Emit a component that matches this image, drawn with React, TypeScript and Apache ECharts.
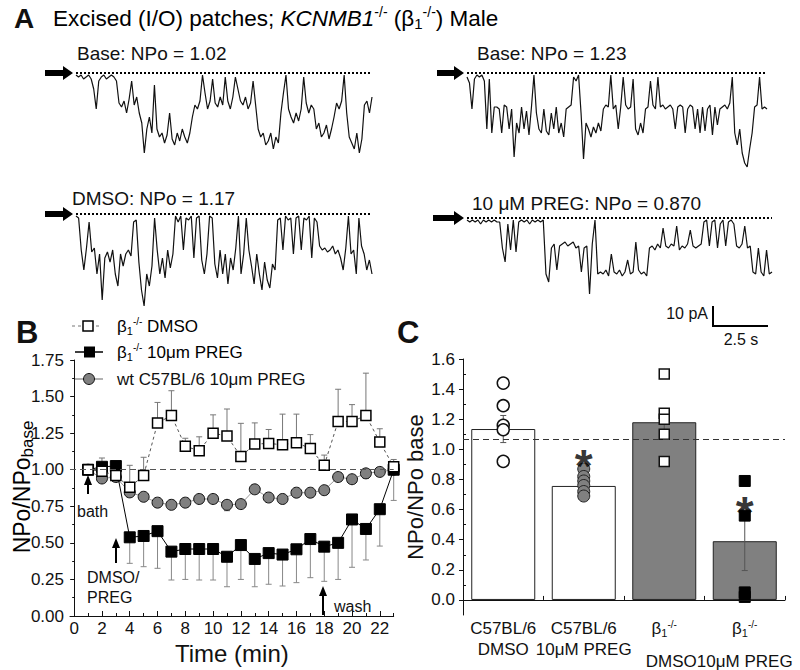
import React, { useEffect, useRef } from 'react';
import * as echarts from 'echarts';

const FONT = 'Liberation Sans, Arial, Helvetica, sans-serif';

// ---------- Panel B data ----------
const timeMin = [1, 2, 3, 4, 5, 6, 7, 8, 9, 10, 11, 12, 13, 14, 15, 16, 17, 18, 19, 20, 21, 22, 23];
const dmsoMean = [1.0, 0.99, 0.96, 0.88, 0.96, 1.32, 1.37, 1.16, 1.13, 1.25, 1.23, 1.09, 1.175, 1.18, 1.17, 1.185, 1.145, 1.03, 1.33, 1.33, 1.37, 1.19, 1.02];
const dmsoErrTop = [1.0, 1.08, 0.99, 1.03, 1.085, 1.46, 1.54, 1.215, 1.225, 1.375, 1.415, 1.317, 1.32, 1.275, 1.38, 1.38, 1.24, 1.1, 1.55, 1.445, 1.66, 1.28, 1.07];
const pregMean = [1.0, 1.02, 1.025, 0.538, 0.547, 0.58, 0.44, 0.458, 0.458, 0.458, 0.405, 0.485, 0.39, 0.43, 0.42, 0.456, 0.526, 0.474, 0.5, 0.66, 0.595, 0.73, 1.0];
const pregErrBottom = [1.0, 0.98, 1.0, 0.36, 0.337, 0.326, 0.246, 0.25, 0.246, 0.246, 0.2, 0.25, 0.2, 0.217, 0.205, 0.228, 0.262, 0.237, 0.25, 0.333, 0.383, 0.478, 0.79];
const wtPregMean = [1.0, 0.94, 0.95, 0.845, 0.815, 0.775, 0.76, 0.775, 0.8, 0.8, 0.76, 0.765, 0.866, 0.81, 0.8, 0.843, 0.843, 0.86, 0.95, 0.935, 0.975, 0.985, 1.0];
const wtPregErrBottom = [1.0, 0.92, 0.93, 0.82, 0.8, 0.76, 0.745, 0.76, 0.785, 0.785, 0.72, 0.75, 0.85, 0.795, 0.785, 0.83, 0.82, 0.83, 0.92, 0.91, 0.94, 0.97, 0.99];
const bXTickMajor = [0, 2, 4, 6, 8, 10, 12, 14, 16, 18, 20, 22];
const bXTickMinor = [1, 3, 5, 7, 9, 11, 13, 15, 17, 19, 21, 23];

// ---------- Panel C data ----------
const cCategories = ['C57BL/6 DMSO', 'C57BL/6 10μM PREG', 'β1-/- DMSO', 'β1-/- 10μM PREG'];
const cLabels = [
  '{t|C57BL/6}\n{t|DMSO}',
  '{t|C57BL/6}\n{t|10μM PREG}',
  '{t|β}{sub|1}{sup|-/-}\n{gap| }\n{d|DMSO}',
  '{t|β}{sub|1}{sup|-/-}\n{gap| }\n{t|10μM PREG}',
];
const barMeans = [1.135, 0.757, 1.18, 0.39];
const barErrLow = [1.045, 0.745, 1.09, 0.195];
const barErrHigh = [1.225, 0.77, 1.27, 0.585];
const wtDmsoPts = [1.44, 1.29, 1.16, 1.13, 0.92];
const wtPregPts = [0.87, 0.82, 0.79, 0.76, 0.72, 0.69];
const koDmsoPts = [1.5, 1.24, 1.2, 1.1, 0.92];
const koPregPts = [0.79, 0.56, 0.05, 0.02];
const cRefLine = 1.07;
const starPoints = [[1, 0.97], [3, 0.66]];
const cTickMajor = [0, 0.2, 0.4, 0.6, 0.8, 1.0, 1.2, 1.4, 1.6];
const cTickMinor = [0.1, 0.3, 0.5, 0.7, 0.9, 1.1, 1.3, 1.5];

// ---------- Panel A traces (pA) ----------
const traceBase1 = [-1, -2, -1, -3, -2, -1, -3, -8, -18, -4, -2, -1, -3, -2, -1, -2, -4, -15, -17, -14, -20, -13, -4, -16,
  -12, -20, -25, -40, -28, -22, -30, -6, -28, -32, -30, -35, -31, -20, -33, -36, -30, -34, -28, -32, -35, -30, -22, -16, -18, -14, -1,
  -10, -18, -14, -3, -15, -17, -12, -16, -2, -14, -18, -12, -2, -8, -14, -16, -12, -18, -15, -4, -16,
  -28, -32, -30, -36, -34, -30, -38, -32, -35, -20, -10, -1, -18, -22, -25, -20, -24, -18, -2, -15, -20, -16,
  -18, -28, -25, -32, -30, -26, -33, -28, -22, -15, -18, -14, -1, -20, -32, -35, -38, -30, -40, -33, -16, -14, -20, -12];
const traceBase2 = [-2, -5, -18, -3, -1, -2, -1, -4, -28, -3, -30, -17, -17, -18, -30, -16, -17,
  -28, -18, -42, -25, -30, -17, -28, -19, -31, -17, -1, -20, -28, -30, -18, -29, -31, -20, -28, -17, -30, -25, -32, -18,
  -17, -16, -2, -4, -1, -20, -43, -25, -28, -32, -27, -30, -25, -29, -18,
  -16, -17, -1, -18, -16, -28, -17, -2, -16, -18, -17, -3, -28, -31, -25, -30, -18,
  -17, -4, -16, -18, -2, -17, -16, -18, -17, -16, -18, -28, -17, -16, -17, -30, -18, -16, -17,
  -28, -18, -30, -17, -29, -18, -16, -31, -17, -26, -18, -17, -16, -18, -15, -2,
  -30, -36, -28, -40, -45, -47, -38, -30, -17, -16, -2, -18, -17, -18];
const traceDmso = [-1, -2, -18, -28, -17, -4, -19, -17, -30, -20, -43, -22, -19, -24, -18, -30, -36, -20, -26,
  -20, -18, -21, -4, -3, -24, -38, -46, -30, -36, -26, -2, -18, -30, -22, -32, -18, -27, -20, -1,
  -4, -1, -18, -2, -3, -1, -22, -2, -1, -23, -30, -20, -1, -2, -25, -32, -18, -30, -20, -35,
  -22, -28, -17, -1, -30, -20, -2, -18, -26, -35, -20, -30, -38, -24, -33, -37, -25, -28,
  -3, -2, -18, -1, -3, -2, -20, -2, -1, -18, -2, -3, -1, -22, -2, -4,
  -16, -18, -17, -19, -18, -16, -20, -18, -22, -28, -17, -1, -20, -18, -30, -2, -16, -20, -28, -23, -30];
const tracePreg = [-1, -2, -1, -2, -1, -3, -1, -2, -1, -2, -1, -2, -2, -15, -22, -3, -16, -1, -17, -2,
  -1, -2, -1, -3, -1, -2, -1, -2, -1, -28, -32, -15, -13, -26, -14, -13,
  -12, -14, -13, -12, -15, -14, -27, -15, -14, -38, -13, -1, -28,
  -27, -28, -26, -29, -18, -27, -28, -26, -29, -27, -21, -28, -27, -12, -26, -28, -27, -29,
  -15, -14, -16, -13, -15, -5, -14, -15, -13, -14, -4, -16, -14, -15, -13, -6, -14, -15, -14, -13,
  -2, -1, -14, -2, -1, -15, -3, -1, -14, -2, -1, -3, -14, -15, -13, -4, -15, -14,
  -27, -28, -15, -27, -29, -16, -28, -27];

const traceSpecs = [
  { data: traceBase1, left: 76, width: 296, top: 71, height: 88, min: -43, label: 'Base: NPo = 1.02', lx: 77, ly: 53, arrowL: 45 },
  { data: traceBase2, left: 467, width: 300, top: 71, height: 98, min: -48, label: 'Base: NPo = 1.23', lx: 477, ly: 53, arrowL: 437 },
  { data: traceDmso, left: 76, width: 296, top: 212, height: 96, min: -47, label: 'DMSO: NPo = 1.17', lx: 72, ly: 198, arrowL: 45 },
  { data: tracePreg, left: 467, width: 305, top: 216, height: 80, min: -39, label: '10 μM PREG: NPo = 0.870', lx: 472, ly: 203, arrowL: 433 },
];

const richSet = (fs: number) => ({
  t: { fontSize: fs, fontFamily: FONT, color: '#111', lineHeight: fs + 4 },
  i: { fontSize: fs, fontFamily: FONT, color: '#111', fontStyle: 'italic', lineHeight: fs + 4 },
  d: { fontSize: fs, fontFamily: FONT, color: '#111', lineHeight: fs + 4, padding: [0, 0, 0, 14] },
  sub: { fontSize: Math.round(fs * 0.66), fontFamily: FONT, color: '#111', lineHeight: Math.round(fs * 0.66), padding: [Math.round(fs * 0.5), 0, 0, 0] },
  sup: { fontSize: Math.round(fs * 0.6), fontFamily: FONT, color: '#111', lineHeight: Math.round(fs * 0.6), padding: [0, 0, Math.round(fs * 0.55), 0] },
  gap: { fontSize: 4, lineHeight: 12 },
});

function errRender(capAtHigh: boolean, color: string) {
  return (params: any, api: any) => {
    const x = api.value(0);
    const lo = api.value(1);
    const hi = api.value(2);
    if (Math.abs(hi - lo) < 1e-6) return { type: 'group', children: [] };
    const a = api.coord([x, lo]);
    const b = api.coord([x, hi]);
    const c = capAtHigh ? b : a;
    const w = 3;
    return {
      type: 'group',
      children: [
        { type: 'line', shape: { x1: a[0], y1: a[1], x2: b[0], y2: b[1] }, style: { stroke: color, lineWidth: 1 } },
        { type: 'line', shape: { x1: c[0] - w, y1: c[1], x2: c[0] + w, y2: c[1] }, style: { stroke: color, lineWidth: 1 } },
      ],
    };
  };
}

function arrowRight(xl: number, xt: number, y: number) {
  return {
    type: 'polygon',
    shape: { points: [[xl, y - 3], [xt - 10, y - 3], [xt - 10, y - 7], [xt, y], [xt - 10, y + 7], [xt - 10, y + 3], [xl, y + 3]] },
    style: { fill: '#000' },
  };
}
function arrowUp(x: number, yb: number, yt: number) {
  return [
    { type: 'line', shape: { x1: x, y1: yb, x2: x, y2: yt + 7 }, style: { stroke: '#000', lineWidth: 2 } },
    { type: 'polygon', shape: { points: [[x - 4, yt + 10], [x, yt], [x + 4, yt + 10]] }, style: { fill: '#000' } },
  ];
}
function txt(x: number, y: number, text: string, fs: number, extra: any = {}) {
  return { type: 'text', x, y, style: { text, fontSize: fs, fontFamily: FONT, fill: '#111', verticalAlign: 'middle', align: 'left', ...extra } };
}

export default function App() {
  const ref = useRef<HTMLDivElement>(null);
  useEffect(() => {
    if (!ref.current) return;
    const chart = echarts.init(ref.current, undefined, { renderer: 'svg' });

    const grids: any[] = [
      { left: 70, top: 360, width: 323.7, height: 256 },
      { left: 463, top: 359, width: 322, height: 257.7 },
      ...traceSpecs.map((s) => ({ left: s.left, top: s.top, width: s.width, height: s.height })),
    ];

    const axisLineStyle = { color: '#111', width: 1 };

    const xAxes: any[] = [
      {
        type: 'value', gridIndex: 0, min: -0.3, max: 23, position: 'bottom',
        axisLine: { lineStyle: axisLineStyle },
        axisTick: { inside: true, length: 5, customValues: bXTickMajor, lineStyle: axisLineStyle },
        axisLabel: { customValues: bXTickMajor, fontSize: 17, fontFamily: FONT, color: '#111', margin: 4 },
        splitLine: { show: false },
        name: 'Time (min)', nameLocation: 'middle', nameGap: 25,
        nameTextStyle: { fontSize: 24, fontFamily: FONT, color: '#111' },
      },
      {
        type: 'value', gridIndex: 0, min: -0.3, max: 23, position: 'bottom',
        axisLine: { show: false },
        axisTick: { inside: true, length: 3, customValues: bXTickMinor, lineStyle: axisLineStyle },
        axisLabel: { show: false }, splitLine: { show: false },
      },
      {
        type: 'category', gridIndex: 1, data: cCategories, position: 'bottom',
        axisLine: { lineStyle: axisLineStyle },
        axisTick: { show: true, length: 4, inside: true, lineStyle: axisLineStyle },
        axisLabel: {
          interval: 0, margin: 3, formatter: (_v: string, i: number) => cLabels[i],
          rich: richSet(17),
        },
      },
      ...traceSpecs.map((s, i) => ({
        type: 'category', gridIndex: 2 + i, show: false, boundaryGap: false,
        data: s.data.map((_v, k) => String(k)),
      })),
    ];

    const yAxes: any[] = [
      {
        type: 'value', gridIndex: 0, min: 0, max: 1.75, interval: 0.25, position: 'left',
        axisLine: { show: true, lineStyle: axisLineStyle },
        axisTick: { show: true, length: 4, lineStyle: axisLineStyle },
        minorTick: { show: true, splitNumber: 2, length: 2, lineStyle: axisLineStyle },
        axisLabel: { formatter: (v: number) => v.toFixed(2), fontSize: 17, fontFamily: FONT, color: '#111', margin: 6 },
        splitLine: { show: false },
      },
      {
        type: 'value', gridIndex: 1, min: -0.1, max: 1.6, position: 'left',
        axisLine: { show: true, lineStyle: axisLineStyle },
        axisTick: { show: true, length: 4, customValues: cTickMajor, lineStyle: axisLineStyle },
        axisLabel: { customValues: cTickMajor, formatter: (v: number) => v.toFixed(1), fontSize: 17, fontFamily: FONT, color: '#111', margin: 8 },
        splitLine: { show: false },
        name: 'NPo/NPo base', nameLocation: 'middle', nameGap: 37, nameRotate: 90,
        nameTextStyle: { fontSize: 22, fontFamily: FONT, color: '#111' },
      },
      {
        type: 'value', gridIndex: 1, min: -0.1, max: 1.6, position: 'left',
        axisLine: { show: false },
        axisTick: { show: true, inside: true, length: 3, customValues: cTickMinor, lineStyle: axisLineStyle },
        axisLabel: { show: false }, splitLine: { show: false },
      },
      ...traceSpecs.map((s, i) => ({ type: 'value', gridIndex: 2 + i, show: false, min: s.min, max: 1, splitLine: { show: false } })),
    ];

    const series: any[] = [
      {
        type: 'custom', xAxisIndex: 0, yAxisIndex: 0, z: 1,
        renderItem: errRender(false, '#666'),
        encode: { x: 0, y: [1, 2] },
        data: timeMin.map((t, i) => [t, wtPregErrBottom[i], wtPregMean[i]]),
      },
      {
        type: 'custom', xAxisIndex: 0, yAxisIndex: 0, z: 1,
        renderItem: errRender(false, '#888'),
        encode: { x: 0, y: [1, 2] },
        data: timeMin.map((t, i) => [t, pregErrBottom[i], pregMean[i]]),
      },
      {
        type: 'custom', xAxisIndex: 0, yAxisIndex: 0, z: 1,
        renderItem: errRender(true, '#777'),
        encode: { x: 0, y: [1, 2] },
        data: timeMin.map((t, i) => [t, dmsoMean[i], dmsoErrTop[i]]),
      },
      {
        name: 'wt C57BL/6 10μm PREG', type: 'line', xAxisIndex: 0, yAxisIndex: 0, z: 2,
        data: timeMin.map((t, i) => [t, wtPregMean[i]]),
        symbol: 'circle', symbolSize: 11,
        itemStyle: { color: '#808080', borderColor: '#111', borderWidth: 1 },
        lineStyle: { color: '#999', width: 1 },
        markLine: {
          silent: true, symbol: 'none', label: { show: false },
          lineStyle: { type: [6, 4], color: '#555', width: 1 },
          data: [{ yAxis: 1 }],
        },
      },
      {
        name: 'β1-/- 10μm PREG', type: 'line', xAxisIndex: 0, yAxisIndex: 0, z: 3,
        data: timeMin.map((t, i) => [t, pregMean[i]]),
        symbol: 'rect', symbolSize: 11,
        itemStyle: { color: '#000', borderColor: '#000', borderWidth: 1 },
        lineStyle: { color: '#000', width: 1 },
      },
      {
        name: 'β1-/- DMSO', type: 'line', xAxisIndex: 0, yAxisIndex: 0, z: 4,
        data: timeMin.map((t, i) => [t, dmsoMean[i]]),
        symbol: 'rect', symbolSize: 10,
        itemStyle: { color: '#fff', borderColor: '#000', borderWidth: 1.5 },
        lineStyle: { color: '#555', width: 1, type: [3, 3] },
      },
      {
        type: 'bar', xAxisIndex: 2, yAxisIndex: 1, barWidth: 64, z: 1,
        data: barMeans.map((v, i) => ({
          value: v,
          itemStyle: { color: i < 2 ? '#ffffff' : '#808080', borderColor: '#222', borderWidth: 1 },
        })),
        markLine: {
          silent: true, symbol: 'none', label: { show: false },
          data: [
            { yAxis: 0, lineStyle: { type: 'solid', color: '#111', width: 1 } },
            { yAxis: cRefLine, lineStyle: { type: [6, 4], color: '#333', width: 1 } },
          ],
        },
      },
      {
        type: 'custom', xAxisIndex: 2, yAxisIndex: 1, z: 2,
        renderItem: (params: any, api: any) => {
          const x = api.value(0);
          const a = api.coord([x, api.value(1)]);
          const b = api.coord([x, api.value(2)]);
          const w = 3;
          return {
            type: 'group',
            children: [
              { type: 'line', shape: { x1: a[0], y1: a[1], x2: b[0], y2: b[1] }, style: { stroke: '#555', lineWidth: 1 } },
              { type: 'line', shape: { x1: a[0] - w, y1: a[1], x2: a[0] + w, y2: a[1] }, style: { stroke: '#555', lineWidth: 1 } },
              { type: 'line', shape: { x1: b[0] - w, y1: b[1], x2: b[0] + w, y2: b[1] }, style: { stroke: '#555', lineWidth: 1 } },
            ],
          };
        },
        encode: { x: 0, y: [1, 2] },
        data: barMeans.map((_v, i) => [i, barErrLow[i], barErrHigh[i]]),
      },
      {
        type: 'scatter', xAxisIndex: 2, yAxisIndex: 1, z: 3,
        data: wtDmsoPts.map((v) => [0, v]), symbol: 'circle', symbolSize: 12,
        itemStyle: { color: '#fff', borderColor: '#111', borderWidth: 1.5, opacity: 1 },
      },
      {
        type: 'scatter', xAxisIndex: 2, yAxisIndex: 1, z: 3,
        data: wtPregPts.map((v) => [1, v]), symbol: 'circle', symbolSize: 12,
        itemStyle: { color: '#808080', borderColor: '#222', borderWidth: 1, opacity: 1 },
      },
      {
        type: 'scatter', xAxisIndex: 2, yAxisIndex: 1, z: 3,
        data: koDmsoPts.map((v) => [2, v]), symbol: 'rect', symbolSize: 10,
        itemStyle: { color: '#fff', borderColor: '#111', borderWidth: 1.5, opacity: 1 },
      },
      {
        type: 'scatter', xAxisIndex: 2, yAxisIndex: 1, z: 3,
        data: koPregPts.map((v) => [3, v]), symbol: 'rect', symbolSize: 11,
        itemStyle: { color: '#000', borderColor: '#000', borderWidth: 1, opacity: 1 },
      },
      {
        type: 'scatter', xAxisIndex: 2, yAxisIndex: 1, z: 5,
        data: starPoints, symbolSize: 1, itemStyle: { color: 'rgba(0,0,0,0)' },
        label: { show: true, position: 'inside', formatter: '*', fontSize: 46, fontWeight: 'bold', fontFamily: FONT, color: '#000', offset: [0, 12] },
      },
      ...traceSpecs.map((s, i) => ({
        type: 'line', xAxisIndex: 3 + i, yAxisIndex: 3 + i,
        data: s.data, symbol: 'none',
        lineStyle: { color: '#111', width: 1.2 },
        markLine: {
          silent: true, symbol: 'none', label: { show: false },
          lineStyle: { type: [2, 2], color: '#000', width: 2 },
          data: [{ yAxis: 0 }],
        },
      })),
    ];

    const titleRich = richSet(22.5);
    const legRich = richSet(17);

    const graphic: any[] = [
      txt(14, 18, 'A', 28, { fontWeight: 'bold' }),
      { type: 'text', x: 53, y: 18, style: { text: '{t|Excised (I/O) patches; }{i|KCNMB1}{sup|-/-}{t| (β}{sub|1}{sup|-/-}{t|) Male}', rich: titleRich, verticalAlign: 'middle', align: 'left' } },
      ...traceSpecs.map((s) => txt(s.lx, s.ly, s.label, 19)),
      ...traceSpecs.map((s) => arrowRight(s.arrowL, s.left - 3, s.top + 2)),
      { type: 'polyline', shape: { points: [[713, 306], [713, 326], [768, 326]] }, style: { stroke: '#000', lineWidth: 2, fill: 'none' } },
      txt(708, 313, '10 pA', 16, { align: 'right' }),
      txt(741, 339, '2.5 s', 16, { align: 'center' }),
      txt(16, 332, 'B', 31, { fontWeight: 'bold' }),
      txt(397, 332, 'C', 31, { fontWeight: 'bold' }),
      {
        type: 'text', x: 22, y: 487, rotation: Math.PI / 2,
        style: {
          text: '{a|NPo/NPo}{b|base}', align: 'center', verticalAlign: 'middle',
          rich: {
            a: { fontSize: 23, fontFamily: FONT, color: '#111', lineHeight: 26 },
            b: { fontSize: 17, fontFamily: FONT, color: '#111', lineHeight: 17, padding: [10, 0, 0, 0] },
          },
        },
      },
      { type: 'line', shape: { x1: 72, y1: 326, x2: 102, y2: 326 }, style: { stroke: '#777', lineWidth: 1, lineDash: [3, 3] } },
      { type: 'rect', shape: { x: 83, y: 321, width: 10, height: 10 }, style: { fill: '#fff', stroke: '#000', lineWidth: 1.5 } },
      { type: 'text', x: 117, y: 326, style: { text: '{t|β}{sub|1}{sup|-/-}{t| DMSO}', rich: legRich, verticalAlign: 'middle', align: 'left' } },
      { type: 'line', shape: { x1: 75, y1: 352, x2: 103, y2: 352 }, style: { stroke: '#000', lineWidth: 1.5 } },
      { type: 'rect', shape: { x: 84, y: 346.5, width: 11, height: 11 }, style: { fill: '#000' } },
      { type: 'text', x: 117, y: 352, style: { text: '{t|β}{sub|1}{sup|-/-}{t| 10μm PREG}', rich: legRich, verticalAlign: 'middle', align: 'left' } },
      { type: 'line', shape: { x1: 75, y1: 379, x2: 103, y2: 379 }, style: { stroke: '#999', lineWidth: 1.5 } },
      { type: 'circle', shape: { cx: 89, cy: 379, r: 5.5 }, style: { fill: '#808080', stroke: '#111', lineWidth: 1 } },
      txt(117, 379, 'wt C57BL/6 10μm PREG', 17),
      ...arrowUp(88, 494, 475),
      txt(77, 511, 'bath', 16),
      ...arrowUp(116, 563, 538),
      txt(87, 577, 'DMSO/', 16),
      txt(87, 597, 'PREG', 16),
      ...arrowUp(323, 615, 586),
      txt(334, 606, 'wash', 16),
    ];

    chart.setOption({
      animation: false,
      backgroundColor: '#ffffff',
      grid: grids,
      xAxis: xAxes,
      yAxis: yAxes,
      series,
      graphic,
    });
    return () => chart.dispose();
  }, []);

  return <div ref={ref} style={{ position: 'fixed', left: 0, top: 0, width: 800, height: 670 }} />;
}
